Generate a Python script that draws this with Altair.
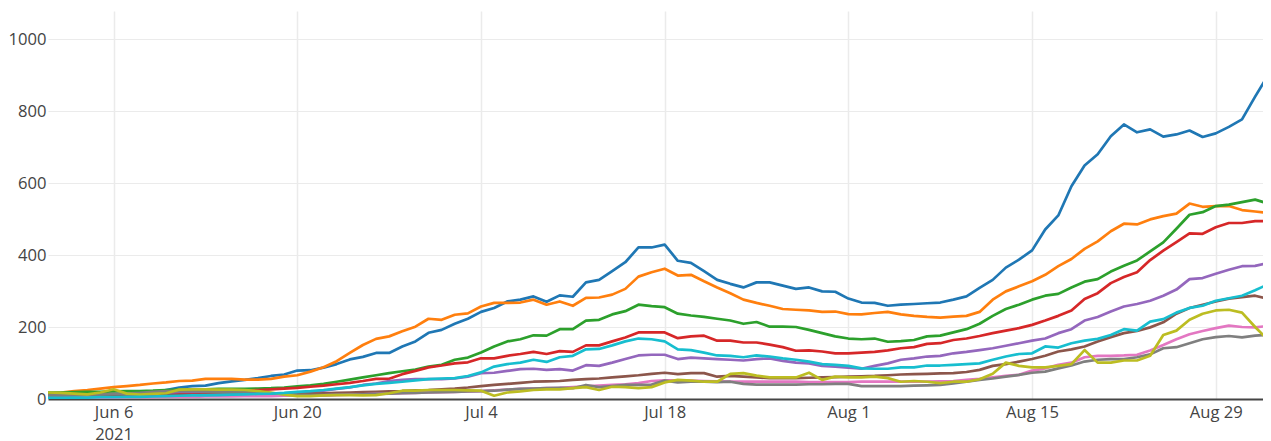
import altair as alt
import pandas as pd

dates = pd.date_range("2021-06-01", periods=94, freq="D").strftime("%Y-%m-%d").tolist()

series_names = ["Series 1", "Series 2", "Series 3", "Series 4", "Series 5",
                "Series 6", "Series 7", "Series 8", "Series 9", "Series 10"]
colors = ["#1f77b4", "#ff7f0e", "#2ca02c", "#d62728", "#9467bd",
          "#8c564b", "#e377c2", "#7f7f7f", "#bcbd22", "#17becf"]

s_blue = [15,15,14,12,12,14,12,12,16,25, 32,36,37,44,49,53,58,64,68,79,
          80,87,97,110,117,128,128,146,160,184, 192,209,223,242,253,271,276,285,270,288,
          284,324,331,355,380,421,421,429,384,378, 355,331,320,310,324,324,315,306,310,299,
          298,279,268,267,259,262,264,266,268,276, 285,309,331,365,387,413,471,510,591,649,
          680,730,763,741,749,729,735,746,728,738, 756,777,840,900]
s_orange = [15,18,22,25,29,33,36,39,43,46, 50,51,56,56,56,54,54,56,62,66,
            76,88,105,128,150,167,174,188,201,223, 220,234,238,257,267,267,268,276,262,271,
            259,281,282,290,306,340,352,362,343,345, 327,310,294,276,267,259,250,248,246,242,
            243,236,235,239,242,235,231,228,226,229, 231,242,276,299,313,327,345,369,389,417,
            438,466,487,485,499,508,515,543,534,536, 536,525,521,517]
s_green = [18,18,19,20,20,21,22,22,23,25, 26,27,27,28,28,28,29,30,32,35,
           38,42,48,54,60,66,72,77,82,90, 95,109,115,129,146,160,166,177,176,194,
           194,218,220,235,244,262,258,255,237,232, 228,223,218,209,214,201,201,200,192,183,
           174,168,166,168,159,161,164,174,176,185, 194,209,231,250,262,276,287,292,310,326,
           333,354,370,385,410,435,473,512,519,536, 540,547,554,543]
s_red = [10,10,10,11,11,12,12,13,14,15, 16,17,18,20,21,23,25,27,29,31,
         34,37,41,45,50,56,56,69,78,88, 93,99,102,113,113,120,125,131,125,133,
         131,149,149,160,171,185,185,185,169,174, 176,162,162,157,157,151,144,134,135,132,
         127,127,129,131,135,141,144,153,155,164, 168,175,183,190,197,206,218,231,246,278,
         294,322,339,352,386,412,436,460,459,477, 489,489,494,494]
s_purple = [8,8,9,9,10,10,10,12,14,17, 20,20,20,19,18,17,17,16,16,18,
            20,23,28,32,39,43,50,53,55,55, 55,57,62,72,73,78,83,84,81,83,
            79,94,92,101,111,121,123,123,111,115, 113,111,109,107,111,113,106,101,99,92,
            90,87,84,92,99,109,113,118,120,127, 131,136,141,148,155,162,168,183,194,218,
            228,243,257,264,273,287,304,333,336,348, 359,369,370,378]
s_brown = [8,8,8,9,9,9,10,10,10,11, 11,11,12,12,12,13,13,14,14,15,
           15,16,17,18,19,20,21,22,24,25, 27,29,32,36,39,42,45,48,49,50,
           53,55,57,60,63,66,70,73,69,72, 72,62,64,62,60,58,58,58,59,60,
           61,62,63,64,66,68,69,70,71,72, 75,81,92,97,104,111,120,132,138,146,
           160,172,183,189,199,213,237,253,262,271, 279,283,287,278]
s_pink = [3,3,3,4,4,4,5,5,5,6, 6,6,7,7,7,8,8,8,9,9,
          10,10,11,12,13,14,15,16,17,18, 19,20,21,22,24,26,28,29,30,31,
          33,35,37,39,41,44,50,52,52,51, 50,49,48,48,48,48,48,48,47,47,
          47,47,48,48,48,48,48,48,49,50, 53,56,60,64,67,79,85,95,101,116,
          120,120,121,123,135,150,166,180,189,197, 204,200,199,203]
s_gray = [10,10,11,12,13,14,15,17,20,22, 22,22,21,20,20,19,18,16,14,12,
          11,11,12,12,13,14,15,16,17,18, 19,20,21,22,23,26,28,29,30,31,
          30,39,33,36,39,39,40,51,46,48, 48,47,48,42,40,40,40,40,41,41,
          42,42,36,36,36,36,37,38,39,43, 48,53,57,62,67,73,76,85,93,104,
          109,111,111,116,124,141,144,155,166,172, 175,171,176,178]
s_olive = [18,17,15,13,18,27,15,12,14,16, 26,27,27,26,26,25,22,18,12,8,
           8,10,11,11,10,11,16,23,23,25, 25,25,24,23,9,18,21,25,27,27,
           30,33,25,34,33,30,33,46,53,51, 48,48,70,72,65,60,60,60,73,53,
           62,60,60,62,58,48,50,48,44,48, 48,55,70,101,92,88,88,92,97,136,
           101,101,107,107,120,178,190,220,237,246, 248,240,200,164]
s_cyan = [3,3,4,4,5,5,6,6,7,8, 9,10,10,11,12,13,14,15,17,20,
          22,25,29,33,38,42,45,48,52,55, 57,58,64,74,90,97,101,109,103,116,
          120,138,139,149,160,168,166,160,138,136, 129,121,120,116,121,118,113,109,104,97,
          95,92,85,84,84,88,88,93,93,95, 97,99,109,118,125,127,146,143,155,162,
          167,178,194,190,215,222,240,253,259,273, 280,287,302,319]

all_series = [s_blue, s_orange, s_green, s_red, s_purple,
              s_brown, s_pink, s_gray, s_olive, s_cyan]

rows = []
for i, (name, vals) in enumerate(zip(series_names, all_series)):
    for d, v in zip(dates, vals):
        rows.append({"date": d, "series": name, "order": i, "value": v})
df = pd.DataFrame(rows)

tick_dates = [(6, 6), (6, 20), (7, 4), (7, 18), (8, 1), (8, 15), (8, 29)]
x_ticks = [alt.DateTime(year=2021, month=m, date=d, utc=True) for m, d in tick_dates]

FONT = "Open Sans"
LABEL_COLOR = "#444444"
GRID = "#ebebeb"

x = alt.X(
    "date:T",
    scale=alt.Scale(
        type="utc",
        domain=[alt.DateTime(year=2021, month=6, date=1, utc=True),
                alt.DateTime(year=2021, month=9, date=1, hours=14, minutes=24, utc=True)],
    ),
    axis=alt.Axis(
        title=None,
        values=x_ticks,
        labelExpr="(utcmonth(datum.value) == 5 && utcdate(datum.value) == 6) ? [utcFormat(datum.value, '%b %-d'), '2021'] : utcFormat(datum.value, '%b %-d')",
        grid=True, gridColor=GRID, gridWidth=1.5,
        ticks=False,
        domain=True, domainColor="#444444", domainWidth=2,
        labelFont=FONT, labelFontSize=16.6, labelColor=LABEL_COLOR,
        labelPadding=5, labelLineHeight=22, labelOverlap=False,
        labelFlush=False,
    ),
)
y = alt.Y(
    "value:Q",
    scale=alt.Scale(domain=[0, 1078], nice=False, zero=True),
    axis=alt.Axis(
        title=None,
        values=[0, 200, 400, 600, 800, 1000],
        format="d",
        grid=True, gridColor=GRID, gridWidth=1.2,
        ticks=False, domain=False,
        labelFont=FONT, labelFontSize=16.6, labelColor=LABEL_COLOR,
        labelPadding=2,
    ),
)

chart = (
    alt.Chart(df)
    .mark_line(strokeWidth=2.7, clip=True, strokeJoin="round")
    .encode(
        x=x,
        y=y,
        color=alt.Color("series:N", scale=alt.Scale(domain=series_names, range=colors), legend=None),
        order=alt.Order("date:T"),
    )
    .properties(
        width=1215,
        height=388,
        padding={"left": 40, "top": 3, "right": 0, "bottom": 42},
        autosize=alt.AutoSizeParams(type="none"),
        background="white",
    )
    .configure_view(stroke=None)
)

chart.save("out.html", embed_options={"renderer": "svg", "actions": False})
